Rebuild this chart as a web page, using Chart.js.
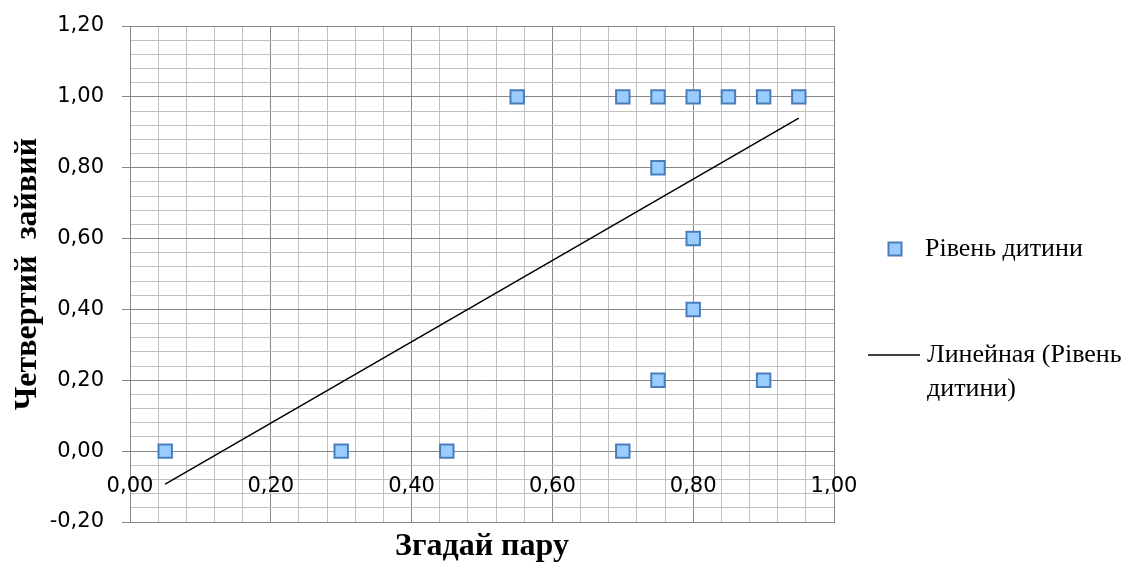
<!DOCTYPE html>
<html>
<head>
<meta charset="utf-8">
<script src="https://cdn.jsdelivr.net/npm/chart.js@4.4.0/dist/chart.umd.min.js"></script>
<style>
  html, body { margin: 0; padding: 0; background: #ffffff; }
  #wrap { width: 1136px; height: 563px; }
</style>
</head>
<body>
<div id="wrap"><canvas id="c" width="1136" height="563"></canvas></div>
<script>
// ---- data ----
const seriesName = 'Рівень дитини';
const trendName = ['Линейная (Рівень', 'дитини)'];
const xValues = [0.05, 0.30, 0.45, 0.55, 0.70, 0.70, 0.75, 0.75, 0.75, 0.80, 0.80, 0.80, 0.85, 0.90, 0.90, 0.95];
const yValues = [0.00, 0.00, 0.00, 1.00, 1.00, 0.00, 1.00, 0.80, 0.20, 1.00, 0.60, 0.40, 1.00, 1.00, 0.20, 1.00];
const trendX = [0.05, 0.95];
const trendY = [-0.093, 0.94];
const xMajor = [0, 0.2, 0.4, 0.6, 0.8, 1.0];
const xTickLabels = ['0,00', '0,20', '0,40', '0,60', '0,80', '1,00'];
const yMajor = [-0.2, 0, 0.2, 0.4, 0.6, 0.8, 1.0, 1.2];
const yTickLabels = ['-0,20', '0,00', '0,20', '0,40', '0,60', '0,80', '1,00', '1,20'];
const xTitle = 'Згадай пару';
const yTitle = 'Четвертий  зайвий';

// ---- styling ----
const MAJOR = '#878787';
const MINOR = '#C0C0C0';
const FILL = '#99CCFF';
const EDGE = '#4A7EBB';
const TICK_FONT = '21px "DejaVu Sans"';
const LEGEND_FONT = '26px "Liberation Serif", "Times New Roman", serif';

function majorIndex(list, v) {
  for (let i = 0; i < list.length; i++) if (Math.abs(list[i] - v) < 1e-6) return i;
  return -1;
}

const scatterData = xValues.map((x, i) => ({ x: x, y: yValues[i] }));
const trendData = trendX.map((x, i) => ({ x: x, y: trendY[i] }));

const xLabelPlugin = {
  id: 'xLabels',
  afterDraw(chart) {
    const ctx = chart.ctx;
    const xs = chart.scales.x, ys = chart.scales.y;
    const y0 = ys.getPixelForValue(0);
    ctx.save();
    ctx.font = TICK_FONT;
    ctx.fillStyle = '#000000';
    ctx.textAlign = 'center';
    ctx.textBaseline = 'middle';
    xMajor.forEach((v, i) => {
      ctx.fillText(xTickLabels[i], xs.getPixelForValue(v), y0 + 35);
    });
    ctx.restore();
  }
};

const legendPlugin = {
  id: 'sideLegend',
  afterDraw(chart) {
    const ctx = chart.ctx;
    ctx.save();
    // marker item
    const mx = 895, my = 249, s = 13;
    ctx.fillStyle = FILL;
    ctx.strokeStyle = EDGE;
    ctx.lineWidth = 2;
    ctx.fillRect(mx - s / 2, my - s / 2, s, s);
    ctx.strokeRect(mx - s / 2, my - s / 2, s, s);
    ctx.fillStyle = '#000000';
    ctx.textAlign = 'left';
    ctx.textBaseline = 'middle';
    ctx.font = LEGEND_FONT;
    ctx.fillText(seriesName, 925, my);
    // trend item
    const ly = 355;
    ctx.strokeStyle = '#000000';
    ctx.lineWidth = 1.5;
    ctx.beginPath();
    ctx.moveTo(868, ly);
    ctx.lineTo(920, ly);
    ctx.stroke();
    trendName.forEach((t, i) => {
      ctx.font = LEGEND_FONT;
      ctx.fillText(t, 927, ly + i * 34);
    });
    ctx.restore();
  }
};

new Chart(document.getElementById('c'), {
  type: 'scatter',
  data: {
    datasets: [
      {
        label: seriesName,
        data: scatterData,
        pointStyle: 'rect',
        pointRadius: 9.5,
        pointHoverRadius: 9.5,
        backgroundColor: FILL,
        borderColor: EDGE,
        borderWidth: 2,
        order: 2
      },
      {
        label: trendName.join(' '),
        type: 'line',
        data: trendData,
        showLine: true,
        borderColor: '#000000',
        borderWidth: 1.5,
        pointRadius: 0,
        fill: false,
        order: 1
      }
    ]
  },
  options: {
    responsive: false,
    animation: false,
    layout: { padding: { top: 26, right: 302, bottom: 0, left: 0 } },
    plugins: {
      legend: { display: false },
      tooltip: { enabled: false }
    },
    scales: {
      x: {
        type: 'linear',
        position: 'bottom',
        min: 0,
        max: 1,
        ticks: { stepSize: 0.04, display: false, autoSkip: false },
        grid: {
          drawTicks: false,
          color: (c) => (c.tick && majorIndex(xMajor, c.tick.value) >= 0) ? MAJOR : MINOR,
          lineWidth: 1
        },
        border: { display: true, color: MAJOR, width: 1 },
        title: {
          display: true,
          text: xTitle,
          color: '#000000',
          font: { family: '"Liberation Serif"', size: 32, weight: 'bold', lineHeight: 1 },
          padding: { top: 0, bottom: 0 }
        },
        afterFit: (scale) => { scale.height = 41; scale.paddingLeft = 0; scale.paddingRight = 0; }
      },
      y: {
        type: 'linear',
        position: 'left',
        min: -0.2,
        max: 1.2,
        ticks: {
          stepSize: 0.04,
          autoSkip: false,
          padding: 18,
          color: '#000000',
          font: { family: '"DejaVu Sans"', size: 21 },
          callback: (v) => {
            const i = majorIndex(yMajor, v);
            return i >= 0 ? yTickLabels[i] : '';
          }
        },
        grid: {
          drawTicks: true,
          tickLength: 8,
          color: (c) => (c.tick && majorIndex(yMajor, c.tick.value) >= 0) ? MAJOR : MINOR,
          tickColor: (c) => (c.tick && majorIndex(yMajor, c.tick.value) >= 0) ? MAJOR : 'rgba(0,0,0,0)',
          lineWidth: 1
        },
        border: { display: true, color: MAJOR, width: 1 },
        title: {
          display: true,
          text: yTitle,
          color: '#000000',
          font: { family: '"Liberation Serif"', size: 32, weight: 'bold', lineHeight: 1 },
          padding: { top: 12, bottom: 0 }
        },
        afterFit: (scale) => { scale.width = 130; scale.paddingTop = 0; scale.paddingBottom = 0; }
      }
    }
  },
  plugins: [xLabelPlugin, legendPlugin]
});
</script>
</body>
</html>
